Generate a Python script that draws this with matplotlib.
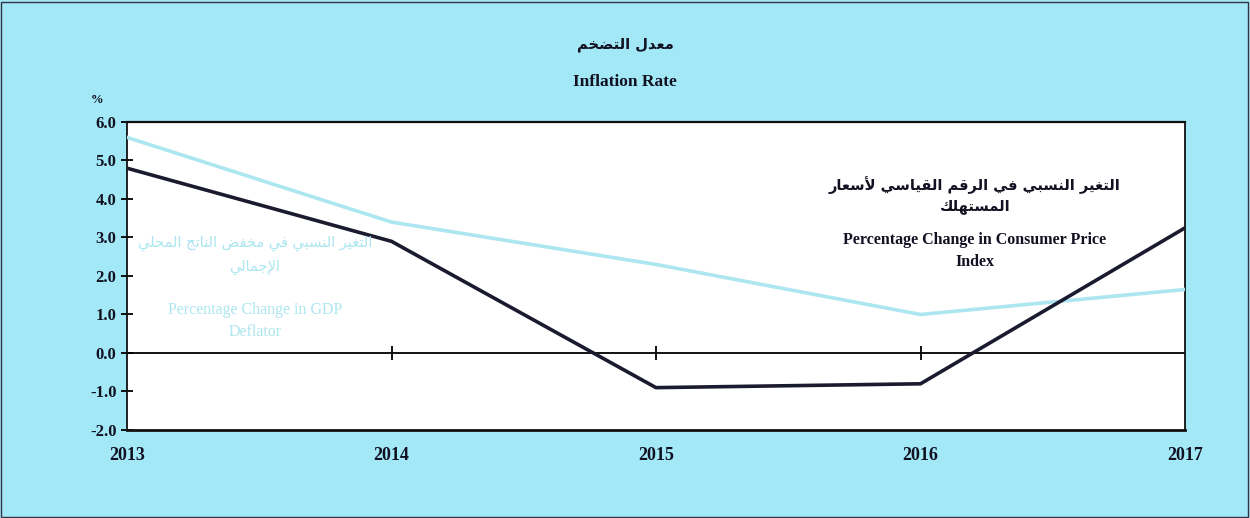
import matplotlib
matplotlib.use("Agg")
import matplotlib.pyplot as plt
from matplotlib.patches import Rectangle

# ---------------- data ----------------
years = [2013, 2014, 2015, 2016, 2017]
cpi = [4.8, 2.9, -0.9, -0.8, 3.25]          # Percentage Change in Consumer Price Index
gdp_deflator = [5.6, 3.4, 2.3, 1.0, 1.65]   # Percentage Change in GDP Deflator
y_ticks = [-2.0, -1.0, 0.0, 1.0, 2.0, 3.0, 4.0, 5.0, 6.0]
year_labels = ["2013", "2014", "2015", "2016", "2017"]

title_ar = "معدل التضخم"
title_en = "Inflation Rate"
cpi_ar = ["التغير النسبي في الرقم القياسي لأسعار", "المستهلك"]
cpi_en = ["Percentage Change in Consumer Price", "Index"]
gdp_ar = ["التغير النسبي في مخفض الناتج المحلي", "الإجمالي"]
gdp_en = ["Percentage Change in GDP", "Deflator"]

# ---------------- minimal Arabic shaping (matplotlib has none) ----------------
FORMS = {  # iso, fin, ini, med
    'ا': (0xFE8D, 0xFE8E, None, None), 'أ': (0xFE83, 0xFE84, None, None),
    'إ': (0xFE87, 0xFE88, None, None), 'د': (0xFEA9, 0xFEAA, None, None),
    'ر': (0xFEAD, 0xFEAE, None, None),
    'ب': (0xFE8F, 0xFE90, 0xFE91, 0xFE92), 'ت': (0xFE95, 0xFE96, 0xFE97, 0xFE98),
    'ج': (0xFE9D, 0xFE9E, 0xFE9F, 0xFEA0), 'ح': (0xFEA1, 0xFEA2, 0xFEA3, 0xFEA4),
    'خ': (0xFEA5, 0xFEA6, 0xFEA7, 0xFEA8), 'س': (0xFEB1, 0xFEB2, 0xFEB3, 0xFEB4),
    'ض': (0xFEBD, 0xFEBE, 0xFEBF, 0xFEC0), 'ع': (0xFEC9, 0xFECA, 0xFECB, 0xFECC),
    'غ': (0xFECD, 0xFECE, 0xFECF, 0xFED0), 'ف': (0xFED1, 0xFED2, 0xFED3, 0xFED4),
    'ق': (0xFED5, 0xFED6, 0xFED7, 0xFED8), 'ك': (0xFED9, 0xFEDA, 0xFEDB, 0xFEDC),
    'ل': (0xFEDD, 0xFEDE, 0xFEDF, 0xFEE0), 'م': (0xFEE1, 0xFEE2, 0xFEE3, 0xFEE4),
    'ن': (0xFEE5, 0xFEE6, 0xFEE7, 0xFEE8), 'ه': (0xFEE9, 0xFEEA, 0xFEEB, 0xFEEC),
    'ي': (0xFEF1, 0xFEF2, 0xFEF3, 0xFEF4),
    'LA': (0xFEFB, 0xFEFC, None, None), 'LAH': (0xFEF7, 0xFEF8, None, None),
    'LAK': (0xFEF9, 0xFEFA, None, None),
}
LIG = {'ا': 'LA', 'أ': 'LAH', 'إ': 'LAK'}


def shape(text):
    out_words = []
    for word in text.split(' '):
        toks = []
        i = 0
        while i < len(word):
            c = word[i]
            if c == 'ل' and i + 1 < len(word) and word[i + 1] in LIG:
                toks.append(LIG[word[i + 1]])
                i += 2
            else:
                toks.append(c)
                i += 1
        res = []
        for k, t in enumerate(toks):
            f = FORMS.get(t)
            if f is None:
                res.append(t)
                continue
            prev = FORMS.get(toks[k - 1]) if k > 0 else None
            jp = prev is not None and prev[2] is not None
            jn = f[2] is not None and k + 1 < len(toks) and toks[k + 1] in FORMS
            if jp and jn:
                cp = f[3]
            elif jp:
                cp = f[1]
            elif jn:
                cp = f[2]
            else:
                cp = f[0]
            res.append(chr(cp))
        out_words.append(''.join(res))
    return ' '.join(out_words)[::-1]


# ---------------- figure ----------------
BG = '#a2e8f6'
LIGHT = '#ace6f0'
DARK = '#1b1b2f'
TXT = '#111122'
SERIF = ['Liberation Serif', 'DejaVu Serif']
AR = ['DejaVu Sans']

fig = plt.figure(figsize=(12.5, 5.18), dpi=100, facecolor=BG)
fig.patches.append(Rectangle((0.001, 0.002), 0.997, 0.994, transform=fig.transFigure,
                             fill=False, edgecolor='#333344', linewidth=1.0))
ax = fig.add_axes([0.1016, 0.1699, 0.8464, 0.5946])
ax.set_facecolor('white')

ax.plot(years, gdp_deflator, color=LIGHT, linewidth=2.6, solid_joinstyle='round', zorder=3)
ax.plot(years, cpi, color=DARK, linewidth=2.6, solid_joinstyle='round', zorder=4)

ax.axhline(0, color='black', linewidth=1.3, zorder=2)
ax.vlines(years[1:-1], -0.17, 0.17, color='black', linewidth=1.3, zorder=2)

ax.set_xlim(years[0], years[-1])
ax.set_ylim(y_ticks[0], y_ticks[-1])
ax.set_yticks(y_ticks)
ax.set_yticklabels([f"{v:.1f}" for v in y_ticks], fontfamily=SERIF, fontweight='bold',
                   fontsize=12, color=TXT)
ax.set_xticks(years)
ax.set_xticklabels(year_labels, fontfamily=SERIF, fontweight='bold', fontsize=13,
                   color=TXT)
ax.tick_params(axis='y', direction='inout', length=9, width=1.3, pad=3)
ax.tick_params(axis='x', length=0, pad=12)
for side, sp in ax.spines.items():
    sp.set_color('#111111')
    sp.set_linewidth(1.3)
ax.spines['bottom'].set_linewidth(2.0)
ax.spines['top'].set_linewidth(1.6)

# titles
fig.text(0.5, 1 - 45 / 518, shape(title_ar), family=AR, fontweight='bold', fontsize=10.5,
         ha='center', va='center', color=TXT)
fig.text(0.5, 1 - 82 / 518, title_en, family=SERIF, fontweight='bold', fontsize=12.5,
         ha='center', va='center', color=TXT)
fig.text(97 / 1250, 1 - 100 / 518, '%', family=SERIF, fontweight='bold', fontsize=9,
         ha='center', va='center', color=TXT)

# CPI annotation
cx = 975 / 1250
fig.text(cx, 1 - 185 / 518, shape(cpi_ar[0]), family=AR, fontweight='bold', fontsize=10.5,
         ha='center', va='center', color=TXT)
fig.text(cx, 1 - 207 / 518, shape(cpi_ar[1]), family=AR, fontweight='bold', fontsize=10.5,
         ha='center', va='center', color=TXT)
fig.text(cx, 1 - 240 / 518, cpi_en[0], family=SERIF, fontweight='bold', fontsize=11.5,
         ha='center', va='center', color=TXT)
fig.text(cx, 1 - 262 / 518, cpi_en[1], family=SERIF, fontweight='bold', fontsize=11.5,
         ha='center', va='center', color=TXT)

# GDP deflator annotation
gx = 255 / 1250
fig.text(gx, 1 - 243 / 518, shape(gdp_ar[0]), family=AR, fontsize=10.5,
         ha='center', va='center', color=LIGHT)
fig.text(gx, 1 - 267 / 518, shape(gdp_ar[1]), family=AR, fontsize=10.5,
         ha='center', va='center', color=LIGHT)
fig.text(gx, 1 - 310 / 518, gdp_en[0], family=SERIF, fontsize=11.5,
         ha='center', va='center', color=LIGHT)
fig.text(gx, 1 - 332 / 518, gdp_en[1], family=SERIF, fontsize=11.5,
         ha='center', va='center', color=LIGHT)

fig.savefig('out.png', dpi=100, facecolor=BG)
